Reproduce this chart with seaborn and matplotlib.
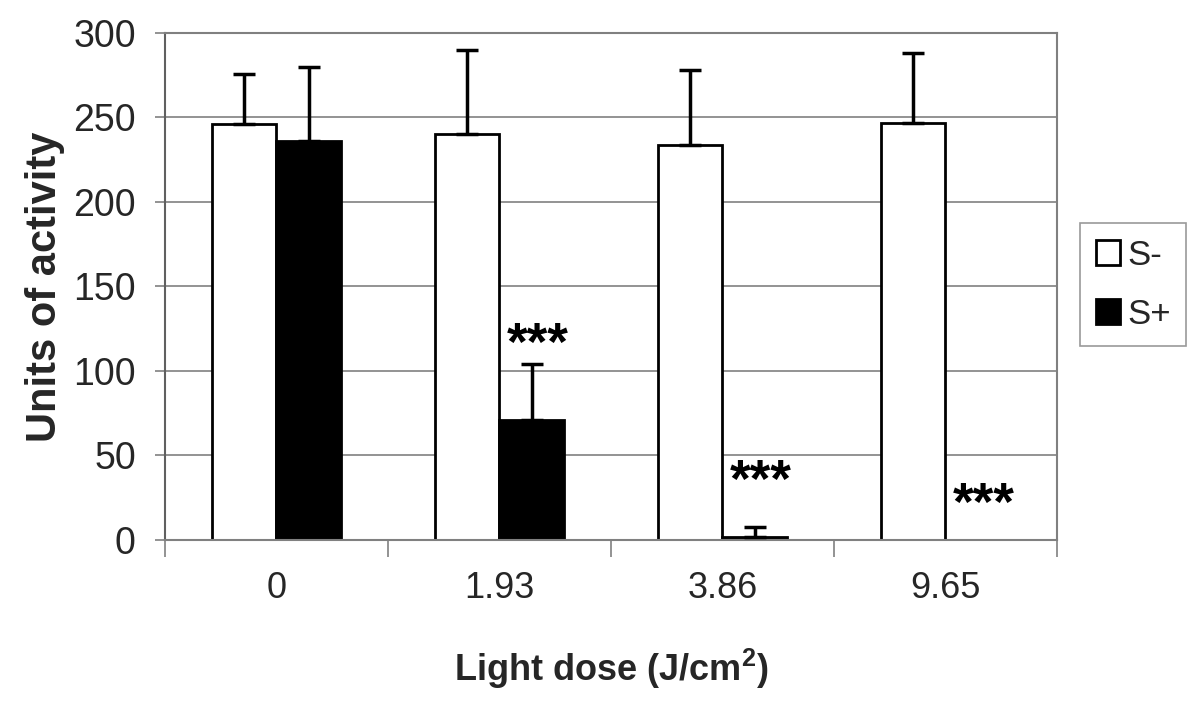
import matplotlib
matplotlib.use("Agg")
import matplotlib.pyplot as plt
import seaborn as sns
import pandas as pd
from matplotlib.ticker import FixedLocator

doses = ["0", "1.93", "3.86", "9.65"]
groups = ["S-", "S+"]
s_minus = [246, 240, 234, 247]
s_minus_err = [30, 50, 44, 41]
s_plus = [236, 71, 1.5, 0]
s_plus_err = [44, 33, 6, 0]
stars = ["", "***", "***", "***"]
star_y = [0, 115, 34, 20]

df = pd.DataFrame({
    "dose": doses * 2,
    "group": [groups[0]] * 4 + [groups[1]] * 4,
    "value": s_minus + s_plus,
    "err": s_minus_err + s_plus_err,
})

sns.set_theme(style="white")
plt.rcParams["font.family"] = ["Liberation Sans", "DejaVu Sans"]

fig = plt.figure(figsize=(12, 7.09), dpi=100)
ax = fig.add_axes([0.1375, 0.2384, 0.7433, 0.7151])

sns.barplot(data=df, x="dose", y="value", hue="group", order=doses,
            hue_order=groups, palette={"S-": "white", "S+": "black"},
            edgecolor="black", linewidth=2, width=0.575, errorbar=None,
            saturation=1, ax=ax)

# error bars (upper only) at the bar centers
for cont, errs in zip(ax.containers, [s_minus_err, s_plus_err]):
    for patch, e in zip(cont.patches, errs):
        if e <= 0:
            continue
        xc = patch.get_x() + patch.get_width() / 2
        h = patch.get_height()
        ax.errorbar([xc], [h], yerr=[[0], [e]], fmt="none", ecolor="black",
                    elinewidth=2.5, capsize=8, capthick=2.5, zorder=5)

for i, (s, yv) in enumerate(zip(stars, star_y)):
    if s:
        p = ax.containers[1].patches[i]
        xc = p.get_x() + p.get_width() / 2
        ax.text(xc + 0.03, yv, s, ha="center", va="center", fontsize=38,
                fontweight="bold", color="black")

ax.set_ylim(0, 300)
ax.set_xlim(-0.5, 3.5)
ax.set_yticks([0, 50, 100, 150, 200, 250, 300])
ax.yaxis.grid(True, color="#808080", linewidth=1.2)
ax.set_axisbelow(True)

ax.xaxis.set_minor_locator(FixedLocator([-0.5, 0.5, 1.5, 2.5, 3.5]))
ax.tick_params(axis="x", which="major", length=0, pad=22, labelsize=26)
ax.tick_params(axis="x", which="minor", length=12, width=1.2, color="#808080", direction="out", bottom=True)
ax.tick_params(axis="y", which="major", length=7, width=1.2, color="#808080", direction="out", left=True, pad=14, labelsize=27)

for sp in ax.spines.values():
    sp.set_visible(True)
    sp.set_color("#808080")
    sp.set_linewidth(1.5)
ax.spines["left"].set_color("#606060")

ax.set_ylabel("Units of activity", fontsize=30, fontweight="bold", labelpad=6)
ax.set_xlabel("Light dose (J/cm$^\\mathregular{2}$)", fontsize=26, fontweight="bold", labelpad=30)

handles, labels = ax.get_legend_handles_labels()
leg = ax.legend(handles, labels, loc="upper left", bbox_to_anchor=(1.026, 0.625),
                fontsize=25, frameon=True, fancybox=False, edgecolor="#808080",
                handlelength=0.7, handleheight=0.7, handletextpad=0.2,
                labelspacing=0.75, borderpad=0.45, borderaxespad=0, title=None)
leg.get_frame().set_linewidth(1.2)

fig.savefig("out.png", dpi=100, facecolor="white")
